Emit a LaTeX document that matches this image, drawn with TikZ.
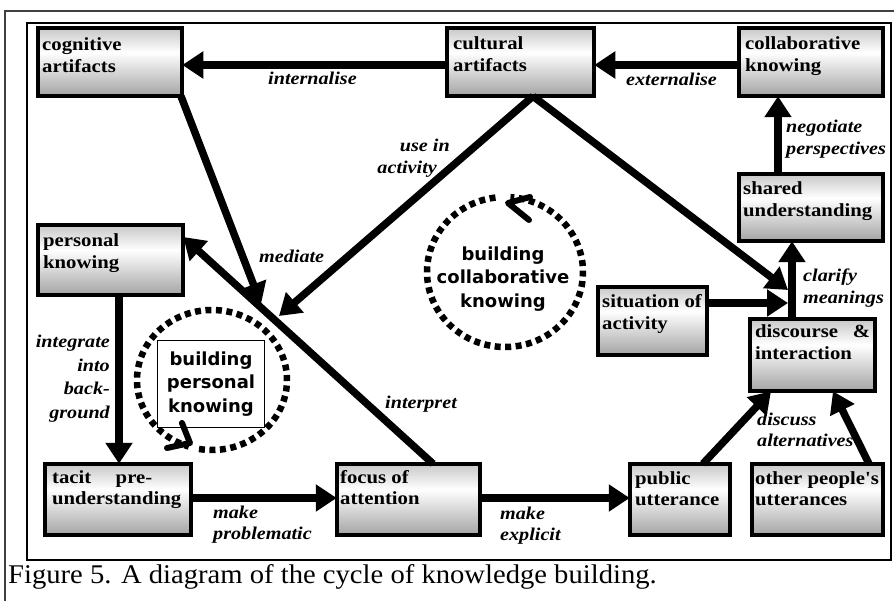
\documentclass[tikz,border=0pt]{standalone}
\usepackage{fontspec}
\setmainfont{Liberation Serif}[FakeStretch=1.12]
\newfontfamily\capfont{Liberation Serif}[FakeStretch=1.06]
\newfontfamily\sansb{DejaVu Sans}
\usetikzlibrary{arrows.meta}
\definecolor{shTop}{gray}{0.78}
\definecolor{shBot}{gray}{0.64}
\pgfdeclareverticalshading{boxshade}{100bp}{color(0bp)=(shBot); color(25bp)=(shBot); color(57bp)=(white); color(75bp)=(shTop); color(100bp)=(shTop)}
\newcommand\mylines[2]{\begin{tabular}[t]{@{}#1@{}}#2\end{tabular}}
\newcommand\kb[8]{%
  \node[kbox, minimum width={#4-#2-3.5}, minimum height={#5-#3-3.5}] (#1) at (#2+1.75,#3+1.75) {};
  \node[btext] (#1t) at (#6,#7) {\mylines{l}{#8}};}
\newcommand\sq{{\addfontfeatures{Ligatures=TeXOff}'}}
\begin{document}
\begin{tikzpicture}[x=1pt,y=-1pt,
  kbox/.style={draw, line width=3.8pt, shade, shading=boxshade, inner sep=0pt, outer sep=0pt, anchor=north west},
  btext/.style={font=\fontsize{18.5}{21.5}\selectfont\bfseries, inner sep=0pt, anchor=base west},
  lab/.style={font=\fontsize{18}{21.5}\selectfont\bfseries\itshape, inner sep=0pt},
  arr/.style={line width=7.5pt, -{Triangle[length=21pt,width=26pt]}},
  ring/.style={line width=6.5pt, dash pattern=on 6pt off 4.5pt},
  rtext/.style={font=\fontsize{18}{23.5}\selectfont\sansb\bfseries, align=center, inner sep=0pt},
  chev/.style={line width=6pt, line cap=round, line join=round}]
\useasboundingbox (0,0) rectangle (894,601);
\fill[white] (0,0) rectangle (894,601);
% frames
\draw[line width=1.5pt, black!75] (5,601) -- (5,11) -- (894,11);
\draw[line width=2.2pt] (27,23) rectangle (891,560);
% boxes
\kb{cog}{36}{26}{184}{98}{42}{51}{cognitive\\artifacts}
\kb{cult}{445}{26}{596}{98}{453}{50}{cultural\\artifacts}
\kb{collab}{737}{26}{885}{98}{745}{50}{collaborative\\knowing}
\kb{shared}{737}{172}{885}{243}{743}{195}{shared\\understanding}
\kb{pers}{36}{223}{185}{297}{43}{247}{personal\\knowing}
\kb{sit}{596}{285}{709}{357}{602}{308}{situation of\\activity}
\kb{disc}{748}{317}{877}{393}{755}{338}{\makebox[115pt][s]{discourse\hfill\&}\\interaction}
\kb{tacit}{43}{462}{193}{537}{52}{483}{\makebox[100pt][s]{tacit\hfill pre-}\\understanding}
\kb{focus}{335}{462}{482}{537}{340}{483}{focus of\\attention}
\kb{public}{628}{462}{732}{537}{635}{484}{public\\utterance}
\kb{others}{750}{462}{885}{537}{755}{484}{other people\sq s\\utterances}
% circles
\draw[ring] (212,380) ++(100:75 and 70) arc[start angle=100, end angle=-252, x radius=75, y radius=70];
\node[rtext, draw, fill=white, line width=1.3pt, minimum width=107, minimum height=87] (bpk) at (211,384) {building\\personal\\knowing};
\draw[chev] (182,423) -- (190,443) -- (167,448);
\draw[ring] (505,272) ++(-97:78 and 75) arc[start angle=-97, end angle=-446, x radius=78, y radius=75];
\node[rtext] (bck) at (503,279) {building\\collaborative\\knowing};
\draw[chev] (530,197) -- (508,203) -- (529,220);
% labels
\node[lab, anchor=base west] (l1) at (268,85) {internalise};
\node[lab, anchor=base west] (l2) at (626,86) {externalise};
\node[lab, anchor=base west] (l3) at (786,133) {\mylines{l}{negotiate\\perspectives}};
\node[lab, anchor=base west] (l4) at (803,282) {\mylines{l}{clarify\\meanings}};
\node[lab, anchor=base east] (l5) at (450,152) {\mylines{r}{use in\\activity\hspace*{13pt}}};
\node[lab, anchor=base west] (l6) at (259,263) {mediate};
\node[lab, anchor=base west] (l7) at (385,408) {interpret};
\node[lab, anchor=base east, font=\fontsize{18}{23.5}\selectfont\bfseries\itshape] (l8) at (110,348) {\mylines{r}{integrate\\into\\back-\\ground}};
\node[lab, anchor=base west] (l9) at (213,518) {\mylines{l}{make\\problematic}};
\node[lab, anchor=base west] (l10) at (500,519) {\mylines{l}{make\\explicit}};
\node[lab, anchor=base west] (l11) at (757,425) {\mylines{l}{discuss\\alternatives}};
% caption
\node[font=\capfont\fontsize{27}{30}\selectfont, anchor=base west, inner sep=0pt] (cap) at (8,583) {Figure 5. A diagram of the cycle of knowledge building.};
% connector end points
\coordinate (cv1) at (788,303);
\coordinate (cv2) at (788,290);
\coordinate (mp1) at (261,304);
\coordinate (mp2) at (279,316);
% connectors
\draw[arr] (cult.west |- 0,65) -- (cog.east |- 0,65);
\draw[arr] (collab.west |- 0,65) -- (cult.east |- 0,65);
\draw[arr] (shared.north -| 778,0) -- (collab.south -| 778,0);
\draw[arr] (disc.north -| 792,0) -- (shared.south -| 792,0);
\draw[arr] (sit.east |- 0,303) -- (cv1);
\draw[arr] (cult.south -| 533,0) -- (cv2);
\draw[arr] (cult.south -| 533,0) -- (mp2);
\draw[arr] (cog.south -| 181,0) -- (mp1);
\draw[arr] (focus.north -| 433,0) -- (pers.east |- 0,237);
\draw[arr] (pers.south -| 119,0) -- (tacit.north -| 119,0);
\draw[arr] (tacit.east |- 0,498) -- (focus.west |- 0,498);
\draw[arr] (focus.east |- 0,498) -- (public.west |- 0,498);
\draw[arr] (public.north -| 703,0) -- (disc.south -| 771,0);
\draw[arr] (others.north -| 869,0) -- (disc.south -| 833,0);
\end{tikzpicture}
\end{document}
